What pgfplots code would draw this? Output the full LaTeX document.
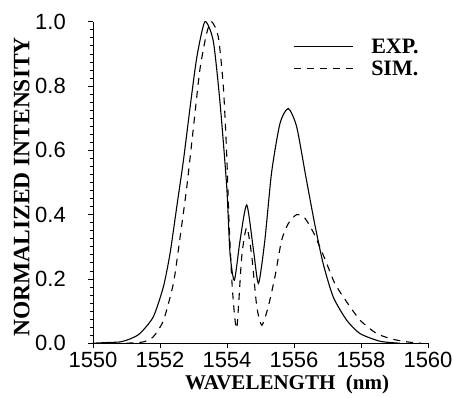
\documentclass[border=0pt]{standalone}
\usepackage{fontspec}
\setmainfont{Liberation Serif}
\setsansfont{Liberation Sans}
\usepackage{pgfplots}
\pgfplotsset{compat=1.18}
\begin{document}
\begin{tikzpicture}
\begin{axis}[
  scale only axis,
  width=335pt, height=321.5pt,
  xmin=1550, xmax=1560, ymin=0, ymax=1,
  axis x line*=bottom, axis y line*=left,
  axis line style={line width=0.9pt,-},
  xtick={1550,1552,...,1560}, ytick={0,0.2,...,1.0},
  minor x tick num=7, minor y tick num=7,
  tick align=outside,
  major tick length=5pt, minor tick length=3pt,
  tick style={black, line width=0.7pt},
  /pgf/number format/assume math mode=true,
  /pgf/number format/.cd, fixed, fixed zerofill, precision=1, 1000 sep={}, /pgfplots/.cd,
  xticklabel={\pgfmathprintnumber[fixed, precision=0]{\tick}},
  ticklabel style={font=\sffamily\fontsize{22}{22}\selectfont, inner sep=0pt},
  yticklabel style={xshift=-22pt},
  xticklabel style={yshift=-3.5pt},
  clip=false,
]
\addplot[black, line width=1.1pt, smooth, tension=0.4] coordinates {
(1550.0,0.000) (1550.4,0.002) (1550.81,0.004) (1551.1,0.013) (1551.40,0.030) (1551.80,0.082)
(1552.10,0.175) (1552.30,0.279) (1552.50,0.424) (1552.70,0.569) (1552.90,0.735)
(1553.10,0.89) (1553.34,1.0) (1553.59,0.94) (1553.79,0.75) (1553.99,0.49)
(1554.09,0.28) (1554.22,0.196) (1554.39,0.32) (1554.59,0.43) (1554.79,0.29)
(1554.94,0.186) (1555.13,0.32) (1555.33,0.53) (1555.58,0.683) (1555.83,0.73)
(1556.08,0.673) (1556.35,0.52) (1556.62,0.37) (1556.87,0.248) (1557.17,0.144)
(1557.57,0.072) (1557.97,0.030) (1558.57,0.006) (1559.16,0.0)
};
\addplot[black, line width=1.1pt, dash pattern=on 7pt off 6pt, smooth, tension=0.4] coordinates {
(1551.0,0.000) (1551.50,0.004) (1551.80,0.02) (1552.10,0.07) (1552.40,0.186)
(1552.60,0.33) (1552.80,0.486) (1553.00,0.673) (1553.19,0.85) (1553.39,0.963)
(1553.54,1.0) (1553.74,0.953) (1553.89,0.80) (1553.99,0.59) (1554.06,0.38)
(1554.16,0.17) (1554.29,0.046) (1554.44,0.27) (1554.59,0.36) (1554.74,0.27)
(1554.89,0.113) (1555.04,0.056) (1555.23,0.113) (1555.43,0.206) (1555.63,0.32)
(1555.83,0.372) (1556.08,0.40) (1556.33,0.388) (1556.6,0.34) (1556.93,0.26)
(1557.2,0.19) (1557.47,0.144) (1557.97,0.072) (1558.47,0.030) (1558.96,0.012)
(1559.46,0.003) (1559.8,0.0)
};
\draw[black, line width=1.0pt] (axis cs:1556.00,0.922) -- (axis cs:1557.75,0.922);
\draw[black, line width=1.0pt, dash pattern=on 7pt off 6pt] (axis cs:1556.00,0.854) -- (axis cs:1557.75,0.854);
\node[anchor=west, font=\fontsize{22}{22}\selectfont\bfseries, inner sep=0pt] at (axis cs:1558.3,0.922) {EXP.};
\node[anchor=west, font=\fontsize{22}{22}\selectfont\bfseries, inner sep=0pt] at (axis cs:1558.3,0.854) {SIM.};
\node[anchor=base west, inner sep=0pt, font=\fontsize{21}{21}\selectfont\bfseries] at (axis description cs:0.2746,-0.1430) {WAVELENGTH\ \ (nm)};
\node[anchor=center, inner sep=0pt, rotate=90, font=\fontsize{23.5}{23.5}\selectfont\bfseries] at (axis description cs:-0.2125,0.486) {NORMALIZED INTENSITY};
\end{axis}
\pgfresetboundingbox
\path (-93pt,-54pt) rectangle (360pt,343.2pt);
\end{tikzpicture}
\end{document}
